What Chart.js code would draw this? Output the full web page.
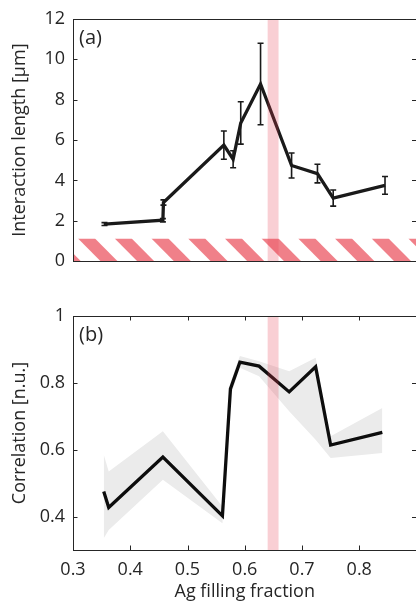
<!DOCTYPE html>
<html>
<head>
<meta charset="utf-8">
<script src="https://cdn.jsdelivr.net/npm/chart.js@4.4.1/dist/chart.umd.min.js"></script>
<style>
  html, body { margin: 0; padding: 0; background: #fff; overflow: hidden; width: 416px; height: 604px; }
  .wrap { position: absolute; left: 0; width: 418px; }
  #wa { top: 0; height: 280px; }
  #wb { top: 290px; height: 314px; }
</style>
</head>
<body>
<div class="wrap" id="wa"><canvas id="ca" width="418" height="280"></canvas></div>
<div class="wrap" id="wb"><canvas id="cb" width="418" height="314"></canvas></div>
<script>
// ---------- data ----------
// panel (a): interaction length vs Ag filling fraction
const fracA   = [0.355, 0.457, 0.458, 0.5635, 0.5797, 0.593, 0.6276, 0.6818, 0.727, 0.7545, 0.845];
const lengthA = [1.84, 2.03, 2.91, 5.75, 5.05, 6.85, 8.78, 4.74, 4.34, 3.13, 3.76];
const errA    = [0.07, 0.08, 0.13, 0.70, 0.42, 1.05, 2.02, 0.62, 0.46, 0.40, 0.44];
// panel (b): correlation vs Ag filling fraction
const fracB   = [0.3537, 0.3624, 0.457, 0.561, 0.575, 0.5915, 0.625, 0.6776, 0.7238, 0.750, 0.8403];
const corrB   = [0.475, 0.427, 0.578, 0.402, 0.782, 0.862, 0.850, 0.773, 0.848, 0.614, 0.652];
const corrLow = [0.335, 0.360, 0.510, 0.380, 0.760, 0.845, 0.820, 0.715, 0.630, 0.575, 0.590];
const corrHigh= [0.585, 0.535, 0.655, 0.430, 0.800, 0.880, 0.865, 0.835, 0.875, 0.640, 0.725];
// highlighted fraction band and resolution limit
const bandFrac = [0.64, 0.659];
const limitLength = [0, 1.12];
// axes
const xRange = [0.3, 0.9];
const xTicks = [0.3, 0.4, 0.5, 0.6, 0.7, 0.8];
const yRangeA = [0, 12];
const yTicksA = [0, 2, 4, 6, 8, 10, 12];
const yRangeB = [0.3, 1];
const yTicksB = [0.4, 0.6, 0.8, 1];
const labels = { x: 'Ag filling fraction', yA: 'Interaction length [\u03bcm]', yB: 'Correlation [n.u.]', a: '(a)', b: '(b)' };

// ---------- style ----------
const FONT = '"Open Sans", "Noto Sans", sans-serif';
const TXT = '#262626';
const FS = 18;

function decor(opts) {
  return {
    id: 'decor_' + opts.name,
    beforeDatasetsDraw(chart) {
      const { ctx, chartArea: ca, scales } = chart;
      if (opts.hatch) {
        const y0 = scales.y.getPixelForValue(opts.hatch[0]);
        const y1 = scales.y.getPixelForValue(opts.hatch[1]);
        const H = y0 - y1, P = 36.7, W = 17;
        ctx.save();
        ctx.beginPath(); ctx.rect(ca.left, y1, ca.right - ca.left, H); ctx.clip();
        ctx.fillStyle = 'rgb(240,128,137)';
        for (let k = -2; k < 14; k++) {
          const xs = ca.left + 5 + k * P;
          ctx.beginPath();
          ctx.moveTo(xs, y1); ctx.lineTo(xs + W, y1);
          ctx.lineTo(xs + W + H, y0); ctx.lineTo(xs + H, y0);
          ctx.closePath(); ctx.fill();
        }
        ctx.restore();
      }
    },
    afterDatasetsDraw(chart) {
      const { ctx, chartArea: ca, scales } = chart;
      const xs = scales.x, ys = scales.y;
      ctx.save();
      // error bars
      if (opts.err) {
        ctx.strokeStyle = '#1a1a1a'; ctx.lineWidth = 1.6;
        opts.err.x.forEach((xv, i) => {
          const px = xs.getPixelForValue(xv);
          const pt = ys.getPixelForValue(opts.err.y[i] + opts.err.e[i]);
          const pb = ys.getPixelForValue(opts.err.y[i] - opts.err.e[i]);
          ctx.beginPath();
          ctx.moveTo(px, pt); ctx.lineTo(px, pb);
          ctx.moveTo(px - 3, pt); ctx.lineTo(px + 3, pt);
          ctx.moveTo(px - 3, pb); ctx.lineTo(px + 3, pb);
          ctx.stroke();
        });
      }
      // highlighted band
      const bx0 = xs.getPixelForValue(bandFrac[0]);
      const bx1 = xs.getPixelForValue(bandFrac[1]);
      ctx.fillStyle = 'rgba(232,62,84,0.25)';
      ctx.fillRect(bx0, ca.top, bx1 - bx0, ca.bottom - ca.top);
      // box
      ctx.strokeStyle = TXT; ctx.lineWidth = 1;
      ctx.strokeRect(Math.round(ca.left) + 0.5, Math.round(ca.top) + 0.5, Math.round(ca.right - ca.left), Math.round(ca.bottom - ca.top));
      // inward ticks
      const TL = 4.5;
      ctx.beginPath();
      opts.yTicks.forEach(v => {
        const py = Math.round(ys.getPixelForValue(v)) + 0.5;
        ctx.moveTo(ca.left, py); ctx.lineTo(ca.left + TL, py);
        ctx.moveTo(ca.right, py); ctx.lineTo(ca.right - TL, py);
      });
      if (opts.xTicksIn) {
        opts.xTicksIn.forEach(v => {
          const px = Math.round(xs.getPixelForValue(v)) + 0.5;
          ctx.moveTo(px, ca.bottom); ctx.lineTo(px, ca.bottom - TL);
          ctx.moveTo(px, ca.top); ctx.lineTo(px, ca.top + TL);
        });
      }
      ctx.stroke();
      // panel label
      ctx.fillStyle = TXT;
      ctx.font = '20px ' + FONT;
      ctx.textBaseline = 'middle';
      ctx.textAlign = 'left';
      ctx.fillText(opts.tag, ca.left + 6, ca.top + 19);
      ctx.restore();
    }
  };
}

function yAxis(range, ticks, title, fmt) {
  return {
    type: 'linear', position: 'left', min: range[0], max: range[1],
    afterFit(s) { s.width = 73; },
    afterBuildTicks(s) { s.ticks = ticks.map(v => ({ value: v })); },
    grid: { display: false, drawTicks: false },
    border: { display: false },
    ticks: { color: TXT, padding: 8, font: { family: FONT, size: FS }, callback: fmt },
    title: { display: true, text: title, color: TXT, font: { family: FONT, size: FS }, padding: { top: 9, bottom: 0 } }
  };
}

Chart.defaults.animation = false;

new Chart(document.getElementById('ca'), {
  type: 'scatter',
  data: {
    datasets: [{
      data: fracA.map((x, i) => ({ x, y: lengthA[i] })),
      showLine: true, borderColor: '#1a1a1a', borderWidth: 3.3, pointRadius: 0,
      borderJoinStyle: 'miter', tension: 0
    }]
  },
  options: {
    responsive: false, animation: false,
    layout: { padding: { top: 19, right: 1.5, bottom: 11, left: 0 } },
    plugins: { legend: { display: false }, tooltip: { enabled: false } },
    scales: {
      x: { type: 'linear', min: xRange[0], max: xRange[1], display: false },
      y: yAxis(yRangeA, yTicksA, labels.yA, v => String(v))
    }
  },
  plugins: [decor({ name: 'a', tag: labels.a, hatch: limitLength, yTicks: yTicksA,
    err: { x: fracA, y: lengthA, e: errA } })]
});

new Chart(document.getElementById('cb'), {
  type: 'scatter',
  data: {
    datasets: [
      { data: fracB.map((x, i) => ({ x, y: corrB[i] })), showLine: true, borderColor: '#0d0d0d', borderWidth: 3.3, pointRadius: 0, borderJoinStyle: 'miter', tension: 0, fill: false },
      { data: fracB.map((x, i) => ({ x, y: corrLow[i] })), showLine: true, borderWidth: 0, pointRadius: 0, borderColor: 'rgba(0,0,0,0)', fill: false },
      { data: fracB.map((x, i) => ({ x, y: corrHigh[i] })), showLine: true, borderWidth: 0, pointRadius: 0, borderColor: 'rgba(0,0,0,0)', fill: '-1', backgroundColor: '#ebebeb' }
    ]
  },
  options: {
    responsive: false, animation: false,
    layout: { padding: { top: 26, right: 1.5, bottom: 0, left: 0 } },
    plugins: { legend: { display: false }, tooltip: { enabled: false }, filler: { propagate: false } },
    scales: {
      x: {
        type: 'linear', position: 'bottom', min: xRange[0], max: xRange[1],
        afterFit(s) { s.height = 54; },
        afterBuildTicks(s) { s.ticks = xTicks.map(v => ({ value: v })); },
        grid: { display: false, drawTicks: false },
        border: { display: false },
        ticks: { color: TXT, padding: 9, maxRotation: 0, font: { family: FONT, size: FS }, callback: v => v.toFixed(1) },
        title: { display: true, text: labels.x, color: TXT, font: { family: FONT, size: FS }, padding: { top: 0, bottom: 1 } }
      },
      y: yAxis(yRangeB, yTicksB, labels.yB, v => (v === 1 ? '1' : v.toFixed(1)))
    }
  },
  plugins: [decor({ name: 'b', tag: labels.b, yTicks: yTicksB, xTicksIn: xTicks })]
});
</script>
</body>
</html>
